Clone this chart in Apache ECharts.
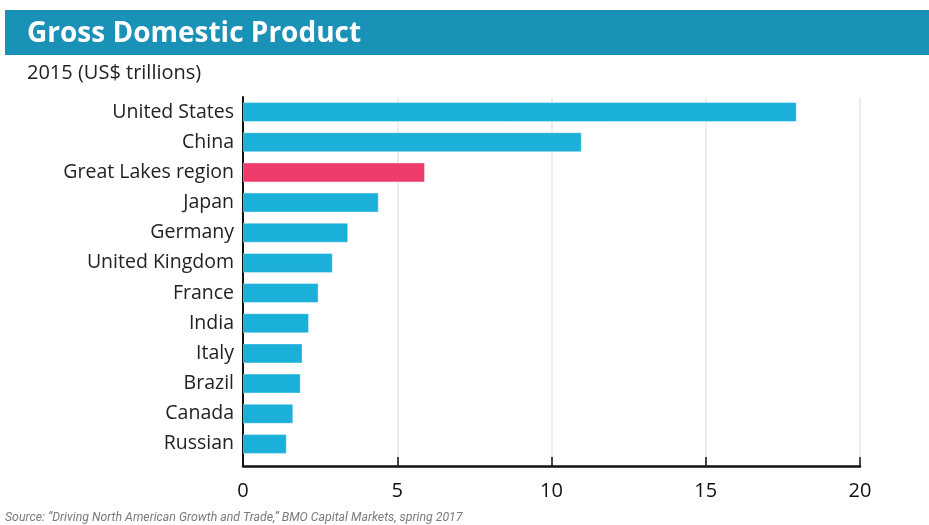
<!DOCTYPE html>
<html>
<head>
<meta charset="utf-8">
<script src="https://cdn.jsdelivr.net/npm/echarts@6/dist/echarts.min.js"></script>
<style>html,body{margin:0;padding:0;background:#fff}#c{width:929px;height:525px}</style>
</head>
<body>
<div id="c"></div>
<script>
var categories = ["United States","China","Great Lakes region","Japan","Germany","United Kingdom","France","India","Italy","Brazil","Canada","Russian"];
var gdpValues = [17.95, 10.98, 5.9, 4.4, 3.41, 2.91, 2.45, 2.14, 1.93, 1.87, 1.63, 1.42];
var highlightCategory = "Great Lakes region";
var xTicks = [0, 5, 10, 15, 20];

var chart = echarts.init(document.getElementById('c'), null, {renderer:'canvas'});
var FONT = '"Open Sans"';
var option = {
  animation: false,
  backgroundColor: '#ffffff',
  graphic: [
    {type:'rect', left:5, top:10, shape:{width:924, height:45}, style:{fill:'#1a92b8'}},
    {type:'text', left:27, top:20, style:{text:'Gross Domestic Product', fill:'#ffffff', font:'bold 28px "Open Sans"'}},
    {type:'text', left:27, top:63, style:{text:'2015 (US$ trillions)', fill:'#222222', font:'20px "Open Sans"'}},
    {type:'text', left:5, top:512, style:{text:'Source: \u201cDriving North American Growth and Trade,\u201d BMO Capital Markets, spring 2017', fill:'#7a7a7a', font:'italic 12.3px Roboto'}}
  ],
  grid: [
    {left:243, right:69, top:97, bottom:59},
    {left:243, right:69, top:97, bottom:66}
  ],
  xAxis: [
    {gridIndex:0, type:'value', min:xTicks[0], max:xTicks[xTicks.length-1], interval:5,
     axisLine:{show:true, lineStyle:{color:'#111', width:2.5}},
     axisTick:{show:true, inside:true, length:9, lineStyle:{color:'#111', width:1.5}},
     axisLabel:{color:'#111', fontSize:20, fontFamily:FONT, margin:15},
     splitLine:{show:true, lineStyle:{color:'#e6e6e6', width:1.5}}},
    {gridIndex:1, type:'value', min:xTicks[0], max:xTicks[xTicks.length-1], show:false}
  ],
  yAxis: [
    {gridIndex:0, type:'value', min:0, max:1, axisLine:{show:true, lineStyle:{color:'#111', width:2}},
     axisTick:{show:false}, axisLabel:{show:false}, splitLine:{show:false}},
    {gridIndex:1, type:'category', data:categories, inverse:true,
     axisLine:{show:false}, axisTick:{show:false},
     axisLabel:{color:'#222', fontSize:19.5, fontFamily:FONT, margin:9}}
  ],
  series: [{
    type:'bar', xAxisIndex:1, yAxisIndex:1, barWidth:20,
    data: gdpValues.map(function(v,i){
      return {value:v, itemStyle:{color: categories[i]===highlightCategory ? '#f03c6b' : '#1ab0d8'}};
    }),
    itemStyle:{borderColor:'rgba(255,255,255,0.4)', borderWidth:1}
  }]
};
chart.setOption(option);
</script>
</body>
</html>
